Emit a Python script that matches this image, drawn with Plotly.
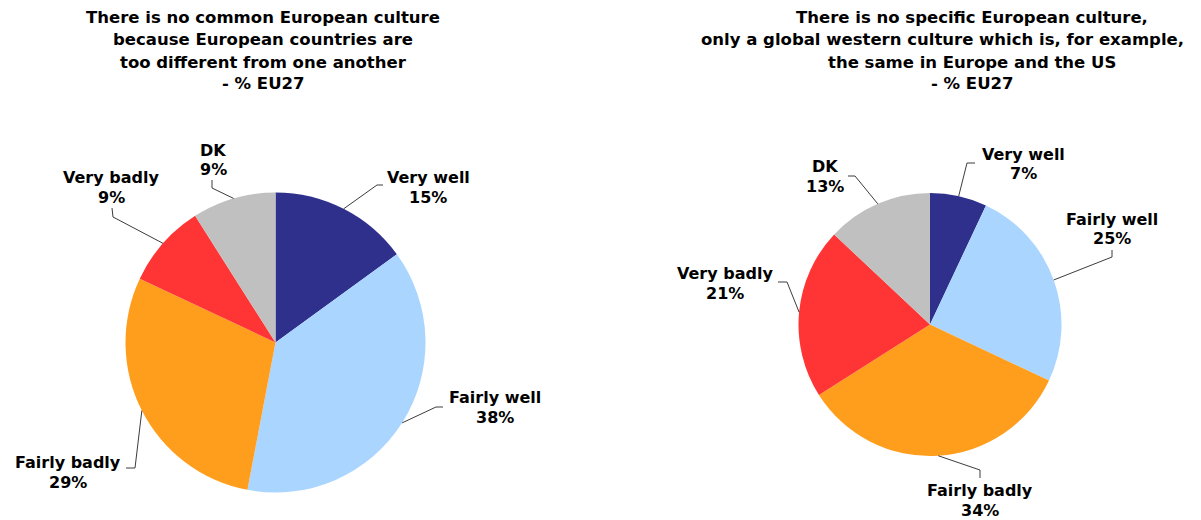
import math
import plotly.graph_objects as go

# ---- data ---------------------------------------------------------------
categories = ["Very well", "Fairly well", "Fairly badly", "Very badly", "DK"]
no_common_culture = [15, 38, 29, 9, 9]
global_western_culture = [7, 25, 34, 21, 13]

title_left = [
    "There is no common European culture",
    "because European countries are",
    "too different from one another",
    "- % EU27",
]
title_right = [
    "There is no specific European culture,",
    "only a global western culture which is, for example,",
    "the same in Europe and the US",
    "- % EU27",
]

# ---- styling ------------------------------------------------------------
W, H = 1201, 520
slice_colors = ["#2f2f8c", "#aad5ff", "#ff9d1c", "#ff3535", "#c0c0c0"]
FONT = "Verdana, DejaVu Sans, sans-serif"
LEADER_COLOR = "#3c3c3c"
LABEL_LINE_GAP = 20

# pie placement in pixels (centre x, centre y, radius)
pie_boxes = [
    dict(cx=275.5, cy=342.5, r=150.0),
    dict(cx=930.0, cy=324.5, r=131.5),
]

# title placement: centre x of each line, line middles in px
title_layout = [
    dict(xs=[263, 263, 263, 263], ys=[18, 40, 62, 84]),
    dict(xs=[972, 942, 972, 972], ys=[18, 40, 62, 84]),
]

# label position (centre x, middle of first line) plus the elbow and end
# of each leader line, in px
label_layout = [
    [
        dict(text=(428, 177), elbow=(377, 185), end=(383, 185)),
        dict(text=(495, 397), elbow=(436, 407), end=(443, 407)),
        dict(text=(68, 462), elbow=(135, 468), end=(126, 468)),
        dict(text=(111, 177), elbow=(113, 217), end=(112, 208)),
        dict(text=(213, 150), elbow=(212, 188), end=(212, 180)),
    ],
    [
        dict(text=(1023, 154), elbow=(967, 163), end=(975, 163)),
        dict(text=(1112, 219), elbow=(1112, 257), end=(1112, 250)),
        dict(text=(980, 490), elbow=(980, 470), end=(980, 478)),
        dict(text=(725, 273), elbow=(787, 282), end=(778, 282)),
        dict(text=(825, 166), elbow=(855, 176), end=(848, 176)),
    ],
]


def px(x):
    return x / W


def py(y):
    return 1 - y / H


def text_note(x, y, text, size):
    return dict(
        x=px(x), y=py(y), xref="paper", yref="paper",
        text=text, showarrow=False, xanchor="center", yanchor="middle",
        font=dict(family=FONT, size=size, color="#000000", weight="bold"),
    )


fig = go.Figure()
annotations = []
shapes = []

for values, box, tl, titles, labels in zip(
    [no_common_culture, global_western_culture],
    pie_boxes,
    title_layout,
    [title_left, title_right],
    label_layout,
):
    cx, cy, r = box["cx"], box["cy"], box["r"]
    fig.add_trace(
        go.Pie(
            labels=categories,
            values=values,
            sort=False,
            direction="clockwise",
            rotation=0,
            textinfo="none",
            hoverinfo="label+percent",
            showlegend=False,
            marker=dict(colors=slice_colors, line=dict(width=0)),
            domain=dict(
                x=[px(cx - r), px(cx + r)],
                y=[py(cy + r), py(cy - r)],
            ),
        )
    )

    # title lines
    for line, x, y in zip(titles, tl["xs"], tl["ys"]):
        annotations.append(text_note(x, y, line, 16.5))

    # slice labels and leader lines starting at the middle of each slice's arc
    total = sum(values)
    cum = 0
    for cat, v, lab in zip(categories, values, labels):
        mid = (cum + v / 2) / total * 2 * math.pi
        cum += v
        sx = cx + r * math.sin(mid)
        sy = cy - r * math.cos(mid)
        ex, ey = lab["elbow"]
        fx, fy = lab["end"]
        shapes.append(
            dict(
                type="path", xref="paper", yref="paper",
                path=f"M {px(sx)},{py(sy)} L {px(ex)},{py(ey)} L {px(fx)},{py(fy)}",
                line=dict(color=LEADER_COLOR, width=1),
            )
        )
        tx, ty = lab["text"]
        annotations.append(text_note(tx, ty, cat, 16))
        annotations.append(text_note(tx, ty + LABEL_LINE_GAP, f"{v}%", 16))

fig.update_layout(
    width=W,
    height=H,
    margin=dict(l=0, r=0, t=0, b=0),
    paper_bgcolor="#ffffff",
    plot_bgcolor="#ffffff",
    annotations=annotations,
    shapes=shapes,
)

fig.write_html("out.html")
